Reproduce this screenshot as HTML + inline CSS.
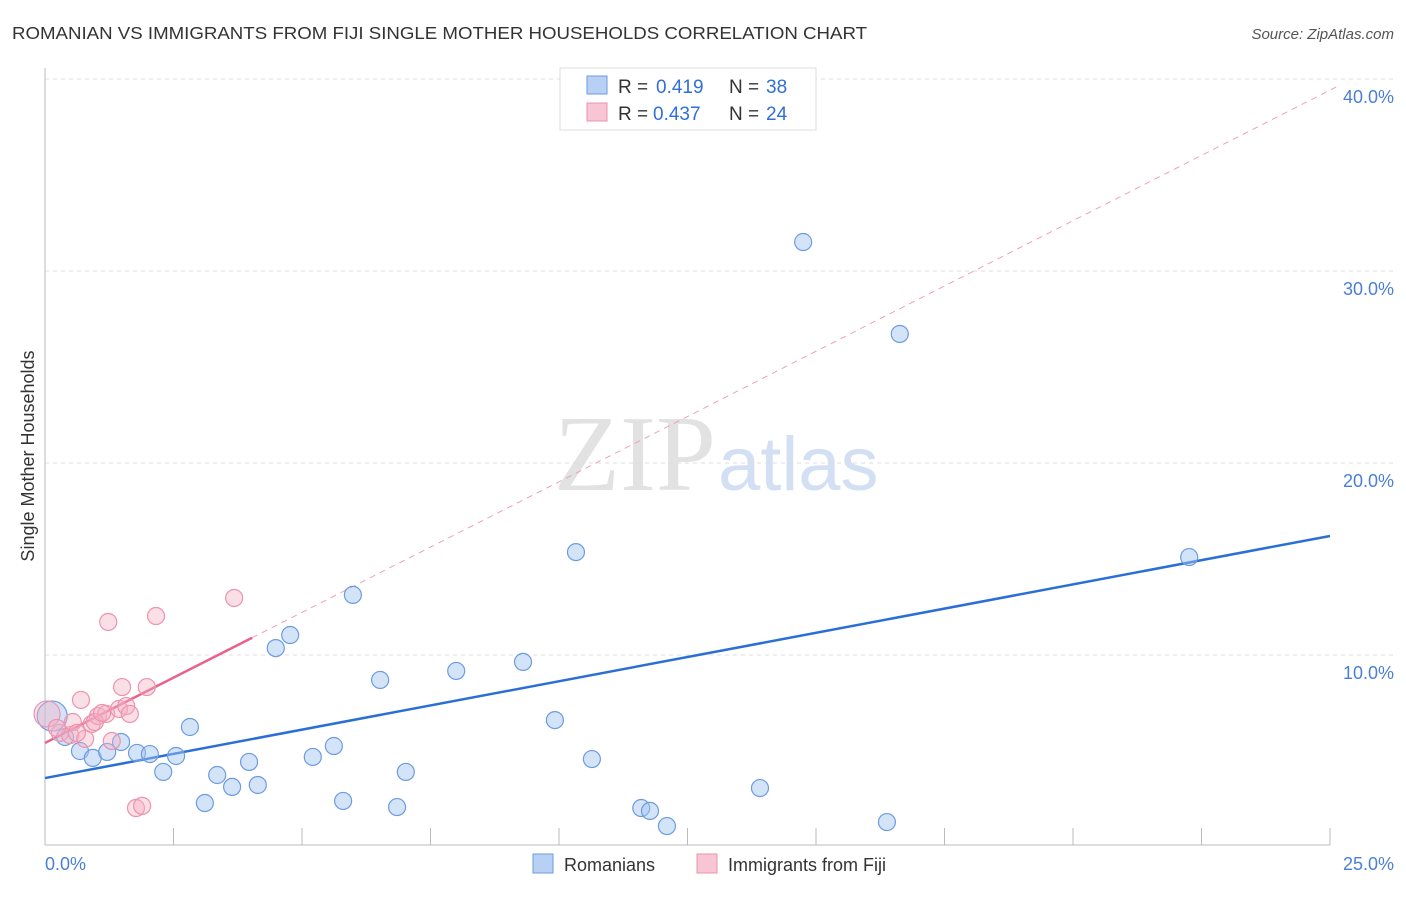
<!DOCTYPE html>
<html><head><meta charset="utf-8"><style>
body{margin:0;background:#fff;font-family:"Liberation Sans",sans-serif}
</style></head><body>
<svg id="chart" width="1406" height="892" xmlns="http://www.w3.org/2000/svg">
<text x="12" y="39" font-size="17.5" fill="#333" textLength="855" lengthAdjust="spacingAndGlyphs">ROMANIAN VS IMMIGRANTS FROM FIJI SINGLE MOTHER HOUSEHOLDS CORRELATION CHART</text>
<text x="1394" y="39" font-size="15" fill="#555" font-style="italic" text-anchor="end">Source: ZipAtlas.com</text>
<text x="716" y="490" font-size="108" fill="#e2e2e2" font-family="Liberation Serif,serif" text-anchor="end">ZIP</text>
<text x="718" y="490" font-size="76" fill="#d3e0f3">atlas</text>
<text transform="translate(34,456) rotate(-90)" font-size="18" fill="#333" text-anchor="middle">Single Mother Households</text>
<g id="grid"></g><g id="ticks"></g>
<line x1="45" y1="68" x2="45" y2="845" stroke="#bbb"/>
<line x1="45" y1="845" x2="1330" y2="845" stroke="#bbb"/>
<text x="45" y="870" font-size="18" fill="#4a7fd6">0.0%</text>
<text x="1394" y="870" font-size="18" fill="#4a7fd6" text-anchor="end">25.0%</text>
<g id="lines"></g><g id="pts"></g>
<g>
<rect x="560" y="68" width="256" height="62" fill="#fff" stroke="#ddd"/>
<rect x="587" y="76" width="20" height="18" fill="#b7d0f3" stroke="#6d9be0"/>
<rect x="587" y="103" width="20" height="18" fill="#f8c5d4" stroke="#ec93ae"/>
<text x="618" y="93" font-size="19" fill="#333">R =</text>
<text x="656" y="93" font-size="19" fill="#2f6fd6">0.419</text>
<text x="729" y="93" font-size="19" fill="#333">N =</text>
<text x="766" y="93" font-size="19" fill="#2f6fd6">38</text>
<text x="618" y="120" font-size="19" fill="#333">R =</text>
<text x="653" y="120" font-size="19" fill="#2f6fd6">0.437</text>
<text x="729" y="120" font-size="19" fill="#333">N =</text>
<text x="766" y="120" font-size="19" fill="#2f6fd6">24</text>
</g>
<g>
<rect x="533" y="854" width="20" height="19" fill="#b7d0f3" stroke="#6d9be0"/>
<text x="564" y="871" font-size="18" fill="#333">Romanians</text>
<rect x="697" y="854" width="20" height="19" fill="#f8c5d4" stroke="#ec93ae"/>
<text x="728" y="871" font-size="18" fill="#333">Immigrants from Fiji</text>
</g>
</svg>
<script>
const yTicks=[10,20,30,40];
const xTickVals=[0,2.5,5,7.5,10,12.5,15,17.5,20,22.5,25];
const blueX=[0.14,0.39,0.68,0.93,1.21,1.48,1.79,2.04,2.30,2.55,2.82,3.11,3.35,3.64,3.97,4.14,4.49,4.77,5.21,5.62,5.80,5.99,6.52,6.85,7.02,8.00,9.30,9.92,10.33,10.64,11.60,11.77,12.10,13.91,14.75,16.38,16.63,22.26];
const blueY=[6.82,5.73,5.0,4.64,4.95,5.47,4.9,4.84,3.91,4.74,6.25,2.29,3.75,3.13,4.43,3.23,10.36,11.04,4.69,5.26,2.40,13.13,8.70,2.08,3.91,9.17,9.64,6.61,15.36,4.58,2.03,1.88,1.09,3.07,31.51,1.30,26.72,15.10];
const pinkX=[0.04,0.29,0.49,0.54,0.70,0.78,0.91,1.03,1.19,1.23,1.30,1.44,1.50,1.58,1.65,1.77,1.89,1.98,2.16,3.68,0.23,0.62,0.97,1.11];
const pinkY=[6.93,5.94,5.83,6.51,7.66,5.63,6.41,6.82,6.93,11.72,5.52,7.19,8.33,7.34,6.93,2.03,2.14,8.33,12.03,12.97,6.20,5.94,6.51,6.98];
const blueTrend=[3.59,16.2];
const pinkTrend=[5.42,1.36];
const NS='http://www.w3.org/2000/svg';
const X=v=>45+v*51.4, Y=v=>847-v*19.2;
function mk(t,a,p){const e=document.createElementNS(NS,t);for(const k in a)e.setAttribute(k,a[k]);document.getElementById(p).appendChild(e);return e;}
yTicks.forEach(v=>{
 const l=mk('line',{x1:45,x2:1394,y1:Y(v),y2:Y(v),stroke:'#ddd','stroke-dasharray':'4,4'},'grid');
 
 
 const t=mk('text',{x:1394,y:Y(v)+24,'font-size':18,fill:'#4a7fd6','text-anchor':'end'},'grid');
 t.textContent=v.toFixed(1)+'%';
 
 
});
xTickVals.forEach(v=>{
 const l=mk('line',{x1:X(v),x2:X(v),y1:828,y2:845,stroke:'#bbb'},'ticks');
 
 
});
let bl=mk('line',{x1:X(0),y1:Y(blueTrend[0]),x2:X(25),y2:Y(blueTrend[1]),stroke:'#2a6fd6','stroke-width':2.5},'lines');


let pd=mk('line',{x1:X(4.03),y1:Y(pinkTrend[0]+pinkTrend[1]*4.03),x2:X(25.2),y2:Y(pinkTrend[0]+pinkTrend[1]*25.2),stroke:'#eea0b8','stroke-width':1,'stroke-dasharray':'6,5'},'lines');


let pl=mk('line',{x1:X(0),y1:Y(pinkTrend[0]),x2:X(4.03),y2:Y(pinkTrend[0]+pinkTrend[1]*4.03),stroke:'#e8628c','stroke-width':2.5},'lines');


blueX.forEach((x,i)=>{
 const c=mk('circle',{cx:X(x),cy:Y(blueY[i]),r:i==0?15:8.5,fill:'rgba(160,195,240,0.45)',stroke:'#6d9be0','stroke-width':1.2},'pts');
 
 
});
pinkX.forEach((x,i)=>{
 const c=mk('circle',{cx:X(x),cy:Y(pinkY[i]),r:i==0?13:8.5,fill:'rgba(245,175,195,0.4)',stroke:'#ec93ae','stroke-width':1.2},'pts');
 
 
});
</script>
</body></html>
